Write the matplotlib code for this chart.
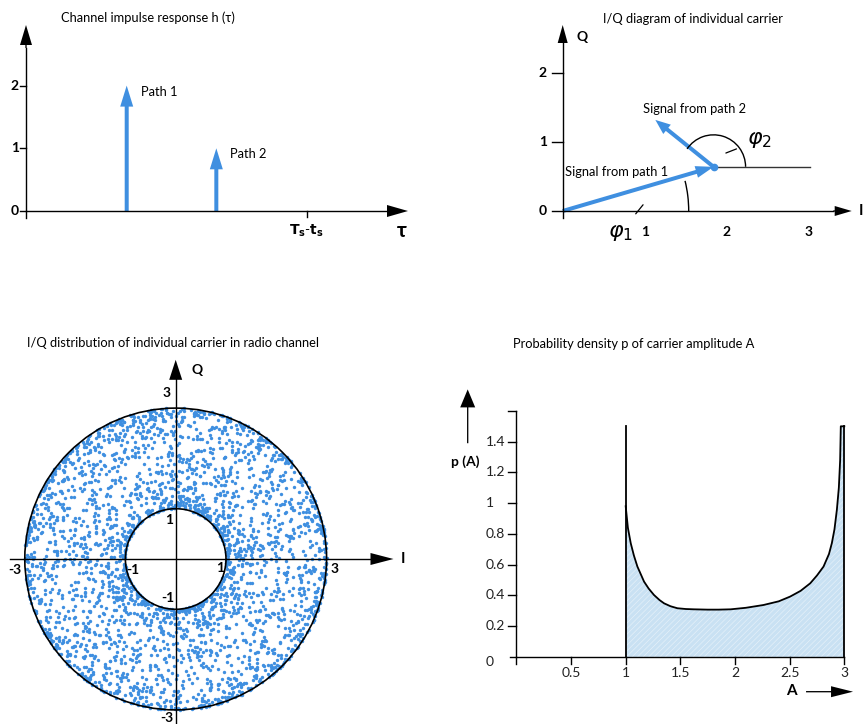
import numpy as np
import matplotlib
matplotlib.use('Agg')
import matplotlib.pyplot as plt
from matplotlib.patches import FancyArrowPatch, Circle, Arc

plt.rcParams['font.family'] = ['Lato', 'DejaVu Sans']
plt.rcParams['hatch.linewidth'] = 0.5

# channel impulse response: two paths
path_delay = [1.0, 1.89]
path_amp = [2, 1]
path_names = ['Path 1', 'Path 2']
symbol_delay = 2.79

# I/Q phasors of the single carrier (end points in I/Q plane)
sig1_end = (1.84, 0.64)
sig2_end = (1.13, 1.32)
ref_line_end = 3.02

# I/Q scatter: number of phase pairs swept
n_points = 3000

# density of carrier amplitude A
amp = [1.0, 1.02, 1.046, 1.075, 1.107, 1.168, 1.21, 1.259, 1.31, 1.351, 1.41,
       1.473, 1.55, 1.625, 1.75, 1.85, 1.96, 2.1, 2.26, 2.4, 2.505, 2.6, 2.688,
       2.75, 2.81, 2.86, 2.886, 2.91, 2.932, 2.95, 2.962, 2.968, 3.0]
dens = [0.98, 0.84, 0.74, 0.66, 0.588, 0.49, 0.445, 0.403, 0.37, 0.349, 0.33,
        0.317, 0.312, 0.31, 0.308, 0.308, 0.31, 0.32, 0.338, 0.362, 0.393, 0.43,
        0.479, 0.53, 0.588, 0.67, 0.74, 0.83, 0.957, 1.1, 1.28, 1.5, 1.5]
spike_top = 1.5
dens_ticks = [0, 0.2, 0.4, 0.6, 0.8, 1, 1.2, 1.4]
amp_ticks = [0.5, 1, 1.5, 2, 2.5, 3]

BLUE = '#3f8fe0'
W, H = 867, 724
fig = plt.figure(figsize=(W / 100, H / 100), dpi=100)
fig.patch.set_facecolor('white')


def panel(box, origin, scale):
    left, top, right, bottom = box
    ox, oy = origin
    sx, sy = scale
    ax = fig.add_axes([left / W, 1 - bottom / H, (right - left) / W, (bottom - top) / H])
    ax.set_xlim((left - ox) / sx, (right - ox) / sx)
    ax.set_ylim((oy - bottom) / sy, (oy - top) / sy)
    ax.axis('off')
    return ax


def ftext(x, y, s, **kw):
    kw.setdefault('fontsize', 9.3)
    kw.setdefault('va', 'center')
    fig.text(x / W, 1 - y / H, s, **kw)


def arrow(ax, start, end, head_len, head_w, tail_w=1.3, color='k'):
    # sizes given in pixels
    style = 'simple,head_length=%.2f,head_width=%.2f,tail_width=%.2f' % (
        head_len * 0.72, head_w * 0.72, tail_w * 0.72)
    ax.add_patch(FancyArrowPatch(start, end, arrowstyle=style, mutation_scale=1,
                                 shrinkA=0, shrinkB=0, color=color, lw=0,
                                 clip_on=False))


def label(ax, x, y, s, dx=0, dy=0, **kw):
    kw.setdefault('fontsize', 9.3)
    kw.setdefault('ha', 'center')
    kw.setdefault('va', 'center')
    ax.annotate(s, (x, y), xytext=(dx * 0.72, -dy * 0.72),
                textcoords='offset points', annotation_clip=False, **kw)


# ---- channel impulse response ----
sx, sy = 100.7, 62.7
ax1 = panel((0, 0, 430, 260), (26, 211), (sx, sy))
ax1.plot([0, 0], [-7 / sy, 2.6], color='k', lw=1)
arrow(ax1, (0, 2.6), (0, 186 / sy), 20, 12)
ax1.plot([0, 3.6], [0, 0], color='k', lw=1)
arrow(ax1, (3.6, 0), (382 / sx, 0), 21, 12)
for h in [0, 1, 2]:
    ax1.plot([-6 / sx, 0], [h, h], color='k', lw=1)
    label(ax1, -6 / sx, h, str(h), dx=-1, ha='right', fontweight='bold', fontsize=10)
ax1.plot([symbol_delay] * 2, [0, -6 / sy], color='k', lw=1)
label(ax1, symbol_delay, 0, r'$\mathbf{T_s}$-$\mathbf{t_s}$', dy=20, fontsize=10)
label(ax1, 376 / sx, 0, 'τ', dy=20, fontsize=15, fontweight='bold')
for d, a, name in zip(path_delay, path_amp, path_names):
    arrow(ax1, (d, 0), (d, a), 21, 13, tail_w=4, color=BLUE)
    label(ax1, d, a, name, dx=14, dy=6, ha='left')
ftext(61, 18, 'Channel impulse response h (τ)')

# ---- I/Q diagram of the carrier ----
sx, sy = 82, 69
ax2 = panel((430, 0, 867, 260), (562.7, 211), (sx, sy))
ax2.plot([0, 0], [-7 / sy, 2.5], color='k', lw=1)
arrow(ax2, (0, 2.5), (0, 186 / sy), 18, 10)
ax2.plot([-11 / sx, 3.3], [0, 0], color='k', lw=1)
arrow(ax2, (3.3, 0), (289 / sx, 0), 17, 10)
for q in [1, 2]:
    ax2.plot([-11 / sx, 0], [q, q], color='k', lw=1)
    label(ax2, -11 / sx, q, str(q), dx=-5, ha='right', fontweight='bold', fontsize=10)
label(ax2, -11 / sx, 0, '0', dx=-5, ha='right', fontweight='bold', fontsize=10)
for i in [1, 2, 3]:
    label(ax2, i, 0, str(i), dy=21, fontweight='bold', fontsize=10)
label(ax2, 0, 186 / sy, 'Q', dx=19, dy=12, fontweight='bold', fontsize=10)
label(ax2, 289 / sx, 0, 'I', dx=9, fontweight='bold', fontsize=11)

ax2.plot([sig1_end[0], ref_line_end], [sig1_end[1]] * 2, color='#333333', lw=1)
arrow(ax2, (0, 0), sig1_end, 18, 12, tail_w=4, color=BLUE)
arrow(ax2, sig1_end, sig2_end, 15, 12, tail_w=4, color=BLUE)
ax2.plot(*sig1_end, 'o', color=BLUE, ms=4.5)

ang1 = np.degrees(np.arctan2(sig1_end[1] * sy, sig1_end[0] * sx))
ang2 = np.degrees(np.arctan2((sig2_end[1] - sig1_end[1]) * sy,
                             (sig2_end[0] - sig1_end[0]) * sx))
r1, r2 = 126, 32
ax2.add_patch(Arc((0, 0), 2 * r1 / sx, 2 * r1 / sy, theta1=0, theta2=ang1, lw=1, color='k'))
ax2.add_patch(Arc(sig1_end, 2 * r2 / sx, 2 * r2 / sy, theta1=0, theta2=ang2, lw=1, color='k'))
ax2.annotate(r'$\varphi_1$', xy=(0.98, 0.09), xytext=(0.70, -0.32), fontsize=16,
             ha='center', va='center', annotation_clip=False,
             arrowprops=dict(arrowstyle='-', lw=0.9, shrinkA=6, shrinkB=0))
ax2.annotate(r'$\varphi_2$', xy=(1.99, 0.84), xytext=(2.40, 1.03), fontsize=16,
             ha='center', va='center', annotation_clip=False,
             arrowprops=dict(arrowstyle='-', lw=0.9, shrinkA=6, shrinkB=0))
label(ax2, 1.0, 1.48, 'Signal from path 2', ha='left', dx=-2)
label(ax2, 0.03, 0.56, 'Signal from path 1', ha='left')
ftext(603, 19, 'I/Q diagram of individual carrier')

# ---- I/Q distribution in the radio channel ----
s = 50.3
ax3 = panel((0, 330, 430, 724), (175.7, 559), (s, s))
# phase pairs of the two paths swept over the full circle
k = np.arange(1, n_points + 1)
ph1 = 2 * np.pi * np.mod(k * np.sqrt(2), 1)
ph2 = 2 * np.pi * np.mod(k * k * np.sqrt(3) + k * np.sqrt(5), 1)
iq = path_amp[0] * np.exp(1j * ph1) + path_amp[1] * np.exp(1j * ph2)
ax3.scatter(iq.real, iq.imag, s=6, color=BLUE, lw=0, zorder=1)
r_in = path_amp[0] - path_amp[1]
r_out = path_amp[0] + path_amp[1]
ax3.add_patch(Circle((0, 0), r_out, fill=False, lw=1.2, color='k', zorder=3))
ax3.add_patch(Circle((0, 0), r_in, fill=False, lw=1.2, color='k', zorder=3))
ax3.plot([-3.3, 4.0], [0, 0], color='k', lw=1, zorder=3)
arrow(ax3, (4.0, 0), (4.33, 0), 23, 12)
ax3.plot([0, 0], [-3.4, 3.6], color='k', lw=1, zorder=3)
arrow(ax3, (0, 3.6), (0, 3.96), 20, 13)
label(ax3, 0, 3.96, 'Q', dx=21, dy=10, fontweight='bold', fontsize=10)
label(ax3, 4.33, 0, 'I', dx=10, fontweight='bold', fontsize=11)
kw = dict(fontweight='bold', fontsize=10)
label(ax3, 0, r_out, str(r_out), dx=-9, dy=-15, **kw)
label(ax3, 0, -r_out, '-%d' % r_out, dx=-9, dy=8, **kw)
label(ax3, -r_out, 0, '-%d' % r_out, dx=-10, dy=11, **kw)
label(ax3, r_out, 0, str(r_out), dx=8, dy=10, **kw)
label(ax3, -r_in, 0, '-%d' % r_in, dx=7, dy=11, **kw)
label(ax3, r_in, 0, str(r_in), dx=-6, dy=9, **kw)
label(ax3, 0, r_in, str(r_in), dx=-7, dy=11, **kw)
label(ax3, 0, -r_in, '-%d' % r_in, dx=-8, dy=-11, **kw)
ftext(27, 343, 'I/Q distribution of individual carrier in radio channel')

# ---- probability density of the amplitude ----
sx, sy = 109.3, 153.8
ax4 = panel((430, 330, 867, 724), (516.4, 657), (sx, sy))
ax4.fill_between(amp, dens, color='#c9e1f3', edgecolor='#e4f0f9', hatch='//////',
                 lw=0, zorder=1)
ax4.plot(amp, dens, color='k', lw=1.3, zorder=3)
ax4.plot([amp[0], amp[0]], [0, spike_top], color='k', lw=1.3, zorder=3)
ax4.plot([amp[-1], amp[-1]], [0, dens[-1]], color='k', lw=1.3, zorder=3)
ax4.plot([0, 0], [0, 1.6], color='k', lw=1)
ax4.plot([-6 / sx, 3.0], [0, 0], color='k', lw=1)
for p in dens_ticks[1:] + [1.6]:
    ax4.plot([-8 / sx, 0], [p, p], color='k', lw=1)
for p in dens_ticks:
    txt = '%g' % p
    label(ax4, -31 / sx, p, txt, ha='left', dy=5 if p == 0 else 0, fontsize=10,
          color='#222222')
for a in [0] + amp_ticks:
    ax4.plot([a, a], [0, -7 / sy], color='k', lw=1)
for a in amp_ticks:
    label(ax4, a, 0, '%g' % a, dy=16, fontsize=10, color='#222222')
arrow(ax4, (-48.7 / sx, 1.39), (-48.7 / sx, 1.74), 18, 15)
label(ax4, -51 / sx, 1.27, 'p (A)', fontweight='bold', fontsize=10)
label(ax4, 2.52, 0, 'A', dy=34, fontweight='bold', fontsize=11)
arrow(ax4, (2.65, -34.7 / sy), (3.08, -34.7 / sy), 22, 11)
ftext(513, 344, 'Probability density p of carrier amplitude A')

fig.savefig('out.png', dpi=100, facecolor='white')
